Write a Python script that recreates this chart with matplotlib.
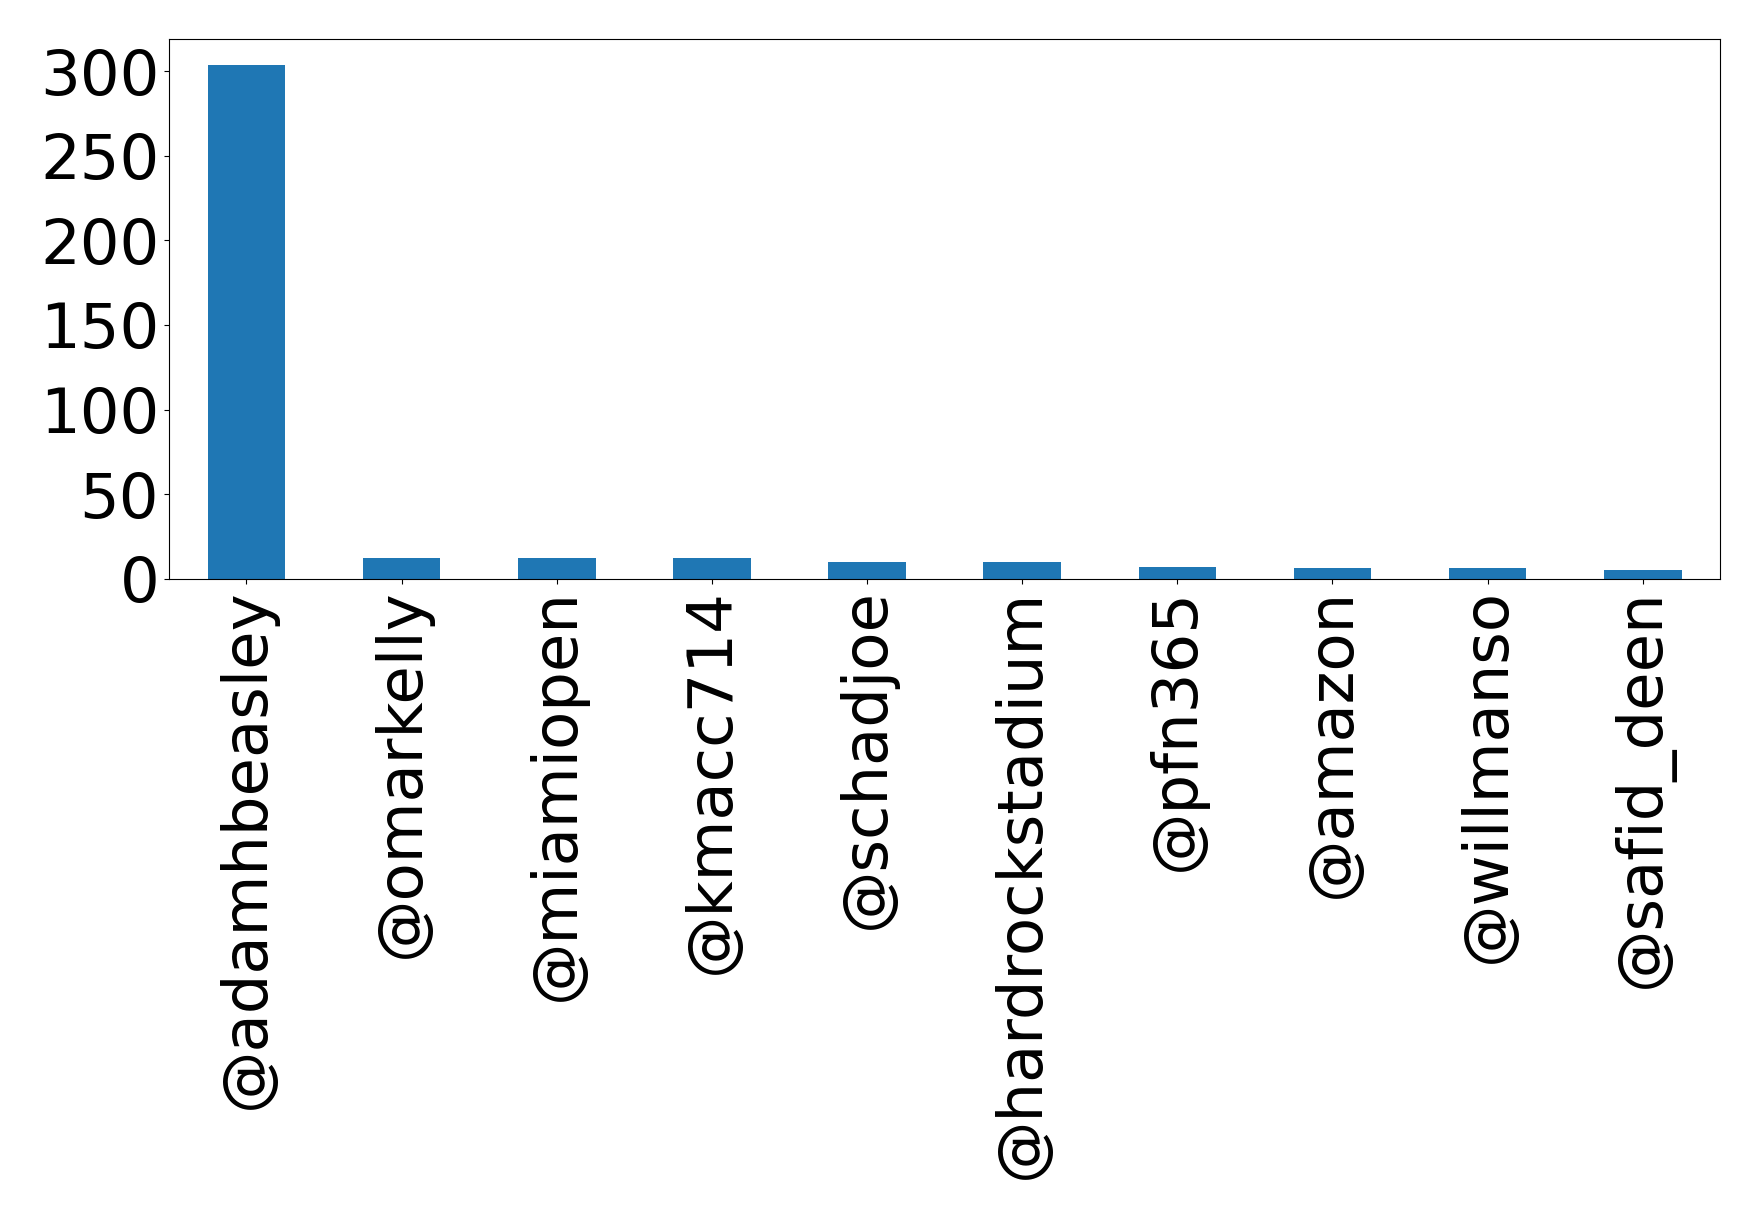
import matplotlib
matplotlib.use('Agg')
import matplotlib.pyplot as plt
import numpy as np


handles = ['@adamhbeasley', '@omarkelly', '@miamiopen', '@kmacc714', '@schadjoe',
           '@hardrockstadium', '@pfn365', '@amazon', '@willmanso', '@safid_deen']
counts = [304, 12, 12, 12, 10, 10, 7, 6, 6, 5]
yticks = [0, 50, 100, 150, 200, 250, 300]

fig, ax = plt.subplots(figsize=(17.59, 12.18), dpi=100)
fig.subplots_adjust(left=0.096, right=0.978, top=0.968, bottom=0.525)

x = np.arange(len(handles))
ax.bar(x, counts, width=0.5, color='#1f77b4')
ax.set_xlim(-0.5, len(handles) - 0.5)
ax.set_xticks(x)
ax.set_xticklabels(handles, rotation=90, fontsize=45)
ax.set_yticks(yticks)
ax.tick_params(axis='y', labelsize=45)

fig.savefig('out.png', dpi=100)
